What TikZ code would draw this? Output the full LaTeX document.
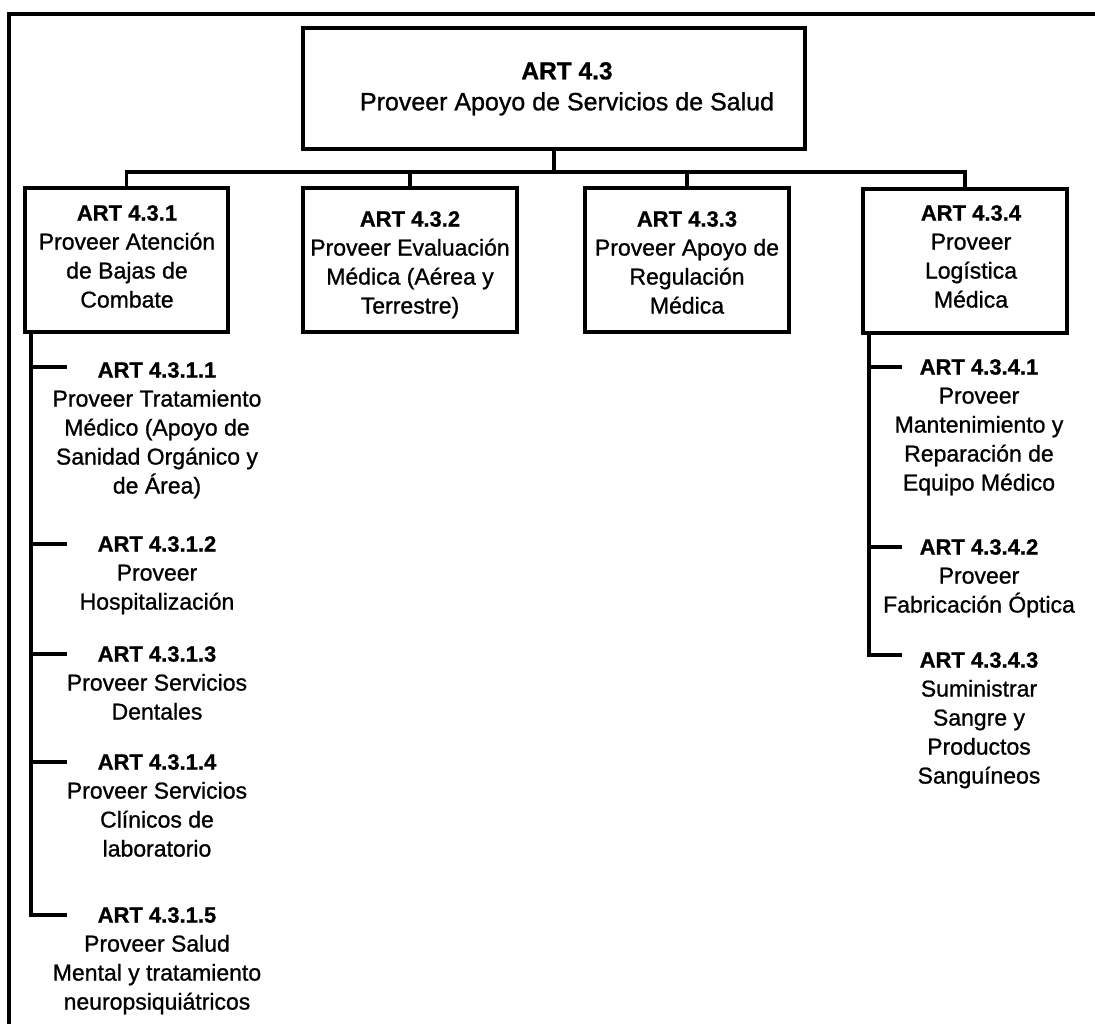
\documentclass[tikz,border=0pt]{standalone}
\usepackage{fontspec}
\setmainfont{Liberation Sans}[UprightFeatures={FakeBold=1.0},BoldFeatures={FakeBold=0.9}]
\newcommand\hd[1]{{\fontsize{22}{29}\selectfont\bfseries #1}}
\tikzset{
  box/.style={draw, line width=4pt, inner sep=0pt},
  txt/.style={anchor=north, inner sep=0pt, align=center, font=\fontsize{23}{29}\selectfont},
  conn/.style={line width=3.6pt},
  frame/.style={line width=4.5pt}
}
\begin{document}
\begin{tikzpicture}[x=1pt,y=-1pt]
\useasboundingbox (0,0) rectangle (1095,1024);

% outer frame (cropped at right and bottom)
\coordinate (fbl) at (9,1024);
\coordinate (ftl) at (9,14);
\coordinate (ftr) at (1095,14);
\draw[frame] (fbl) -- (ftl) -- (ftr);

% boxes
\node[box, minimum width=502pt, minimum height=121pt] (top) at (554,88.5) {};
\node[box, minimum width=203pt, minimum height=144pt] (b1) at (126.5,260) {};
\node[box, minimum width=214pt, minimum height=144pt] (b2) at (410,260) {};
\node[box, minimum width=204pt, minimum height=144pt] (b3) at (687,260) {};
\node[box, minimum width=204pt, minimum height=144pt] (b4) at (965,261) {};

% box texts
\node[txt, font=\fontsize{25}{31}\selectfont] (t0) at (567,62)
  {{\fontsize{24.5}{31}\selectfont\bfseries ART 4.3}\\Proveer Apoyo de Servicios de Salud};
\node[txt] (t1) at (127,205) {\hd{ART 4.3.1}\\Proveer Atención\\de Bajas de\\Combate};
\node[txt] (t2) at (410,211) {\hd{ART 4.3.2}\\Proveer Evaluación\\Médica (Aérea y\\Terrestre)};
\node[txt] (t3) at (687,211) {\hd{ART 4.3.3}\\Proveer Apoyo de\\Regulación\\Médica};
\node[txt] (t4) at (971,205) {\hd{ART 4.3.4}\\Proveer\\Logística\\Médica};

% bus connectors
\coordinate (bus) at (0,172);
\draw[conn] (top.south) -- (top.south |- bus);
\draw[conn] (b1.north) -- (b1.north |- bus) -- (b4.north |- bus) -- (b4.north);
\draw[conn] (b2.north) -- (b2.north |- bus);
\draw[conn] (b3.north) -- (b3.north |- bus);

% left column items
\node[txt] (l1) at (157,362) {\hd{ART 4.3.1.1}\\Proveer Tratamiento\\Médico (Apoyo de\\Sanidad Orgánico y\\de Área)};
\node[txt] (l2) at (157,536) {\hd{ART 4.3.1.2}\\Proveer\\Hospitalización};
\node[txt] (l3) at (157,646) {\hd{ART 4.3.1.3}\\Proveer Servicios\\Dentales};
\node[txt] (l4) at (157,754) {\hd{ART 4.3.1.4}\\Proveer Servicios\\Clínicos de\\laboratorio};
\node[txt] (l5) at (157,907) {\hd{ART 4.3.1.5}\\Proveer Salud\\Mental y tratamiento\\neuropsiquiátricos};

\coordinate (lt) at ([xshift=8pt]b1.south west);
\coordinate (k1) at (67,367);
\coordinate (k2) at (67,544);
\coordinate (k3) at (67,654);
\coordinate (k4) at (67,762);
\coordinate (k5) at (67,915);
\draw[conn] (lt) |- (k5);
\foreach \k in {k1,k2,k3,k4} \draw[conn] (lt |- \k) -- (\k);

% right column items
\node[txt] (r1) at (979,359) {\hd{ART 4.3.4.1}\\Proveer\\Mantenimiento y\\Reparación de\\Equipo Médico};
\node[txt] (r2) at (979,539) {\hd{ART 4.3.4.2}\\Proveer\\Fabricación Óptica};
\node[txt] (r3) at (979,652) {\hd{ART 4.3.4.3}\\Suministrar\\Sangre y\\Productos\\Sanguíneos};

\coordinate (rt) at ([xshift=8pt]b4.south west);
\coordinate (m1) at (902,367);
\coordinate (m2) at (902,547);
\coordinate (m3) at (902,655);
\draw[conn] (rt) |- (m3);
\foreach \k in {m1,m2} \draw[conn] (rt |- \k) -- (\k);
\end{tikzpicture}
\end{document}
